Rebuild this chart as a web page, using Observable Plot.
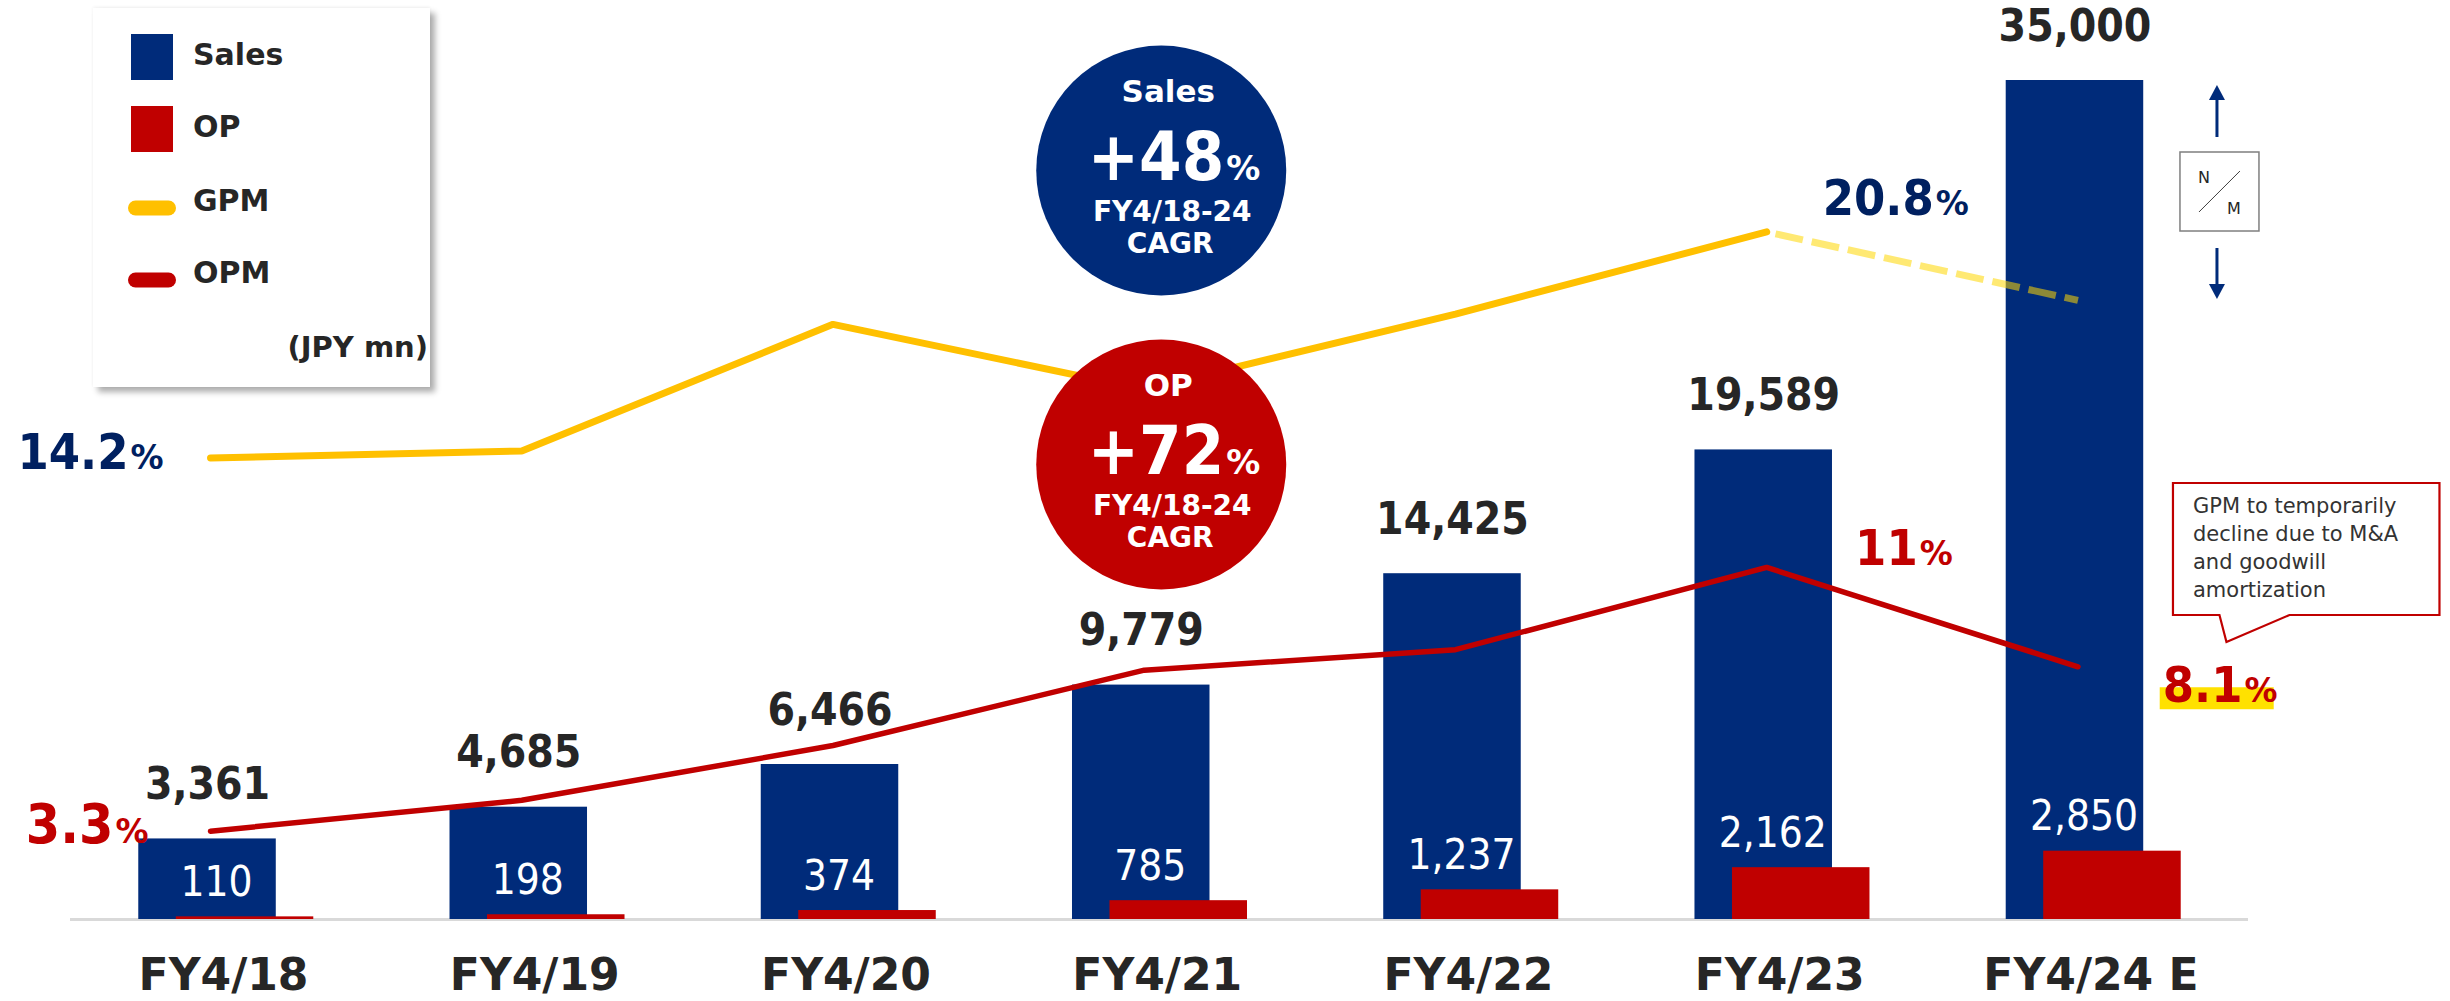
<!DOCTYPE html>
<html>
<head>
<meta charset="utf-8">
<script src="https://cdn.jsdelivr.net/npm/d3@7"></script>
<script src="https://cdn.jsdelivr.net/npm/@observablehq/plot@0.6"></script>
<style>
  html, body { margin: 0; padding: 0; background: #fff; }
  #wrap { position: relative; width: 2450px; height: 1001px; overflow: hidden; }
  #legend { position: absolute; left: 93px; top: 8px; width: 337px; height: 379px; background: #fff;
            box-shadow: 5px 5px 6px rgba(0,0,0,0.32), 0 -1px 3px rgba(0,0,0,0.06); }
  #legend svg { display: block; }
</style>
</head>
<body>
<div id="wrap"></div>
<script>
// ---------------- data ----------------
const categories = ["FY4/18", "FY4/19", "FY4/20", "FY4/21", "FY4/22", "FY4/23", "FY4/24 E"];
const sales = [3361, 4685, 6466, 9779, 14425, 19589, 35000];   // JPY mn
const op    = [110, 198, 374, 785, 1237, 2162, 2850];          // JPY mn
const gpm   = [14.2, 14.4, 18.1, 16.2, 18.4, 20.8, 18.8];      // %
const opm   = [3.3, 4.2, 5.8, 8.0, 8.6, 11, 8.1];              // %
const cagrNames  = ["Sales", "OP"];
const cagrValues = [48, 72];
const cagrPeriod = "FY4/18-24";
const noteLines  = ["GPM to temporarily", "decline due to M&A", "and goodwill", "amortization"];
const legendItems = ["Sales", "OP", "GPM", "OPM"];
const unitLabel  = "(JPY mn)";

// ---------------- styles ----------------
const NAVY = "#002B7A", RED = "#C00000", GOLD = "#FFC000", INK = "#262626", PNAVY = "#002060";
const NUM  = "'DejaVu Sans Condensed', 'DejaVu Sans', sans-serif";
const SANS = "'DejaVu Sans', sans-serif";
const fmt = d3.format(",");

// secondary (percent) axis expressed in primary-axis units
const pctToY = d3.scaleLinear().domain([0.72, 25.22]).range([0, 35000]);

const data = categories.map((cat, i) => ({
  cat, sales: sales[i], op: op[i], gpm: gpm[i], opm: opm[i],
  gpmY: pctToY(gpm[i]), opmY: pctToY(opm[i])
}));

function pctLabel(d, yKey, value, color, dx, dy, size = 50) {
  return [
    Plot.text([d], {x: "cat", y: yKey, text: () => String(value), textAnchor: "end", lineAnchor: "bottom",
      dx, dy, fontSize: size, fontWeight: "bold", fontFamily: NUM, fill: color}),
    Plot.text([d], {x: "cat", y: yKey, text: () => "%", textAnchor: "start", lineAnchor: "bottom",
      dx: dx + 2, dy, fontSize: 33, fontWeight: "bold", fontFamily: SANS, fill: color})
  ];
}

const cagrFill = [NAVY, RED];
const cagrDy = [90, 384];
const cagrMarks = cagrNames.flatMap((name, i) => {
  const c = [{cat: categories[3]}];
  const cy = cagrDy[i];
  const base = {x: "cat", frameAnchor: "top", lineAnchor: "bottom", fill: "white", fontWeight: "bold"};
  return [
    Plot.dot(c, {x: "cat", frameAnchor: "top", dx: 20, dy: cy, r: 125, fill: cagrFill[i]}),
    Plot.text(c, {...base, text: () => name, dx: 27, dy: cy - 69, fontSize: 31, fontFamily: SANS}),
    Plot.text(c, {...base, text: () => "+" + cagrValues[i], textAnchor: "end", dx: 83, dy: cy + 9, fontSize: 68, fontFamily: NUM}),
    Plot.text(c, {...base, text: () => "%", textAnchor: "start", dx: 85, dy: cy + 9, fontSize: 34, fontFamily: SANS}),
    Plot.text(c, {...base, text: () => cagrPeriod, dx: 31, dy: cy + 50, fontSize: 28, fontFamily: SANS}),
    Plot.text(c, {...base, text: () => "CAGR", dx: 29, dy: cy + 82, fontSize: 28, fontFamily: SANS})
  ];
});

const chart = Plot.plot({
  width: 2450, height: 1001,
  marginTop: 80, marginBottom: 82, marginLeft: 70, marginRight: 202,
  x: {type: "band", domain: categories, paddingInner: 0.5582, paddingOuter: 0.278, align: 0.3945, round: false, axis: null},
  y: {domain: [0, 35000], axis: null},
  style: {fontFamily: SANS, background: "#fff", overflow: "visible"},
  marks: [
    Plot.ruleY([0], {stroke: "#D9D9D9", strokeWidth: 3}),
    Plot.barY(data, {x: "cat", y: "sales", fill: NAVY}),
    Plot.barY(data, {x: "cat", y: "op", fill: RED, dx: 37.5}),
    Plot.line(data.slice(0, 6), {x: "cat", y: "gpmY", stroke: GOLD, strokeWidth: 7, dx: 3,
      strokeLinecap: "round", strokeLinejoin: "miter"}),
    Plot.line(data.slice(5), {x: "cat", y: "gpmY", stroke: "#FFD700", strokeOpacity: 0.55, strokeWidth: 7, dx: 3,
      strokeDasharray: "28,9", strokeDashoffset: 28, strokeLinecap: "butt"}),
    Plot.line(data, {x: "cat", y: "opmY", stroke: RED, strokeWidth: 5.5, dx: 3, strokeLinejoin: "miter"}),
    Plot.text(data, {x: "cat", y: "sales", text: d => fmt(d.sales), dy: -40, lineAnchor: "bottom",
      fontSize: 44, fontWeight: "bold", fontFamily: NUM, fill: INK}),
    Plot.text(data, {x: "cat", y: "op", text: d => fmt(d.op), dx: 9, dy: -21, lineAnchor: "bottom",
      fontSize: 42, fontFamily: NUM, fill: "white"}),
    Plot.tickY([data[6]], {x: "cat", y: "opmY", stroke: "#FFE100", strokeWidth: 22, dx: 154, dy: 31.6, insetRight: 23.5}),
    ...pctLabel(data[0], "gpmY", data[0].gpm, PNAVY, -79, 11),
    ...pctLabel(data[5], "gpmY", data[5].gpm, PNAVY, 170, -17),
    ...pctLabel(data[0], "opmY", data[0].opm, RED, -94, 12, 55),
    ...pctLabel(data[5], "opmY", data[5].opm, RED, 154, -2),
    ...pctLabel(data[6], "opmY", data[6].opm, RED, 167.5, 35),
    ...cagrMarks,
    Plot.text(categories, {x: d => d, text: d => d, frameAnchor: "bottom", dy: 70, dx: 16, lineAnchor: "bottom",
      fontSize: 44, fontWeight: "bold", fontFamily: SANS, fill: INK})
  ]
});

document.getElementById("wrap").appendChild(chart);

// ---------------- annotations (N/M box, arrows, callout) ----------------
const xs = chart.scale("x");
const cE = xs.apply(categories[6]) + xs.bandwidth / 2;   // centre of the FY4/24 E band
const svg = d3.select(chart);
const g = svg.append("g").attr("text-anchor", "start");
const ax = cE + 142.5;
g.append("line").attr("x1", ax).attr("x2", ax).attr("y1", 137).attr("y2", 98).attr("stroke", NAVY).attr("stroke-width", 3);
g.append("path").attr("d", `M${ax - 8},100 L${ax},85 L${ax + 8},100 Z`).attr("fill", NAVY);
g.append("line").attr("x1", ax).attr("x2", ax).attr("y1", 248).attr("y2", 286).attr("stroke", NAVY).attr("stroke-width", 3);
g.append("path").attr("d", `M${ax - 8},284 L${ax},299 L${ax + 8},284 Z`).attr("fill", NAVY);
g.append("rect").attr("x", ax - 37).attr("y", 152).attr("width", 79).attr("height", 79)
  .attr("fill", "#fff").attr("stroke", "#7F7F7F").attr("stroke-width", 1.5);
g.append("line").attr("x1", ax - 18).attr("y1", 212).attr("x2", ax + 23).attr("y2", 171).attr("stroke", "#404040").attr("stroke-width", 1);
g.append("text").attr("x", ax - 19).attr("y", 183).attr("text-anchor", "start").attr("font-size", 16).attr("font-family", SANS).attr("fill", "#262626").text("N");
g.append("text").attr("x", ax + 10).attr("y", 214).attr("text-anchor", "start").attr("font-size", 16).attr("font-family", SANS).attr("fill", "#262626").text("M");

const bx = cE + 98.5, bx2 = cE + 365;
g.append("path")
  .attr("d", `M${bx},483 H${bx2} V615 H${cE + 215} L${cE + 152},642 L${cE + 145},615 H${bx} Z`)
  .attr("fill", "#fff").attr("stroke", RED).attr("stroke-width", 2.2);
noteLines.forEach((t, i) => {
  g.append("text").attr("x", bx + 20).attr("y", 513 + i * 28).attr("text-anchor", "start").attr("font-size", 21)
    .attr("font-family", SANS).attr("fill", "#333").text(t);
});

// ---------------- legend ----------------
const legendColors = [NAVY, RED, GOLD, RED];
const legendDiv = d3.select("#wrap").append("div").attr("id", "legend");
const ls = legendDiv.append("svg").attr("width", 337).attr("height", 379);
const rowText = [57, 129, 203, 275];
legendItems.forEach((name, i) => {
  if (i < 2) {
    ls.append("rect").attr("x", 38).attr("y", rowText[i] - 31).attr("width", 42).attr("height", 46).attr("fill", legendColors[i]);
  } else {
    ls.append("line").attr("x1", 42.5).attr("x2", 75.5).attr("y1", rowText[i] - 3).attr("y2", rowText[i] - 3)
      .attr("stroke", legendColors[i]).attr("stroke-width", 15).attr("stroke-linecap", "round");
  }
  ls.append("text").attr("x", 100).attr("y", rowText[i]).attr("font-size", 30).attr("font-weight", "bold")
    .attr("font-family", SANS).attr("fill", INK).text(name);
});
ls.append("text").attr("x", 335).attr("y", 349).attr("text-anchor", "end").attr("font-size", 29).attr("font-weight", "bold")
  .attr("font-family", SANS).attr("fill", INK).text(unitLabel);
</script>
</body>
</html>
